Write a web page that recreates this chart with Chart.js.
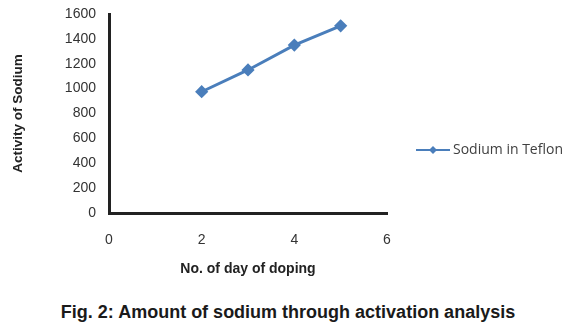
<!DOCTYPE html>
<html>
<head>
<meta charset="utf-8">
<script src="https://cdn.jsdelivr.net/npm/chart.js@4.4.1/dist/chart.umd.min.js"></script>
<style>
  body { margin: 0; background: #fff; }
  #wrap { position: relative; width: 576px; height: 332px; }
  #chart { position: absolute; left: 0; top: 0; }
  #caption {
    position: absolute; left: 0; width: 576px; top: 302px;
    text-align: center; font: bold 18px "Liberation Sans", Arial, sans-serif; color: #1a1a1a;
  }
</style>
</head>
<body>
<div id="wrap">
  <canvas id="chart" width="576" height="290"></canvas>
  <div id="caption">Fig. 2: Amount of sodium through activation analysis</div>
</div>
<script>
// values
const days = [2, 3, 4, 5]
const sodium = [975, 1150, 1350, 1505]
const seriesName = 'Sodium in Teflon'
const lineBlue = '#4a7ebb'

// legend drawn beside the plot, Excel style
const sideLegend = {
  id: 'sideLegend',
  afterDraw (chart) {
    const ctx = chart.ctx
    const ds = chart.data.datasets[0]
    const y = 150
    ctx.save()
    ctx.strokeStyle = ds.borderColor
    ctx.lineWidth = 2
    ctx.beginPath()
    ctx.moveTo(416, y)
    ctx.lineTo(450, y)
    ctx.stroke()
    ctx.fillStyle = ds.backgroundColor
    ctx.beginPath()
    ctx.moveTo(433, y - 4)
    ctx.lineTo(437, y)
    ctx.lineTo(433, y + 4)
    ctx.lineTo(429, y)
    ctx.closePath()
    ctx.fill()
    ctx.fillStyle = '#404040'
    ctx.font = '14px "Open Sans", sans-serif'
    ctx.textBaseline = 'middle'
    ctx.fillText(ds.label, 453, y)
    ctx.restore()
  }
}

const tickFont = { family: '"Liberation Sans", Arial, sans-serif', size: 14 }

new Chart(document.getElementById('chart').getContext('2d'), {
  type: 'line',
  data: {
    datasets: [{
      label: seriesName,
      data: days.map((d, i) => ({ x: d, y: sodium[i] })),
      borderColor: lineBlue,
      backgroundColor: lineBlue,
      borderWidth: 3,
      pointStyle: 'rectRot',
      pointRadius: 4.5,
      tension: 0
    }]
  },
  options: {
    responsive: false,
    animation: false,
    layout: { padding: { left: 0, top: 14, right: 189, bottom: 0 } },
    plugins: { legend: { display: false }, tooltip: { enabled: false } },
    scales: {
      x: {
        type: 'linear',
        min: 0, max: 6,
        ticks: { stepSize: 2, color: '#333', font: tickFont, padding: 19, maxRotation: 0, callback: v => String(v) },
        grid: { display: false, drawTicks: false },
        border: { display: true, color: '#222', width: 3 },
        title: {
          display: true, text: 'No. of day of doping', color: '#222',
          font: { family: '"Liberation Sans", Arial, sans-serif', size: 14, weight: 'bold' },
          padding: { top: 0, bottom: 12 }
        },
        afterFit (scale) { scale.height = 77 }
      },
      y: {
        min: 0, max: 1600,
        ticks: { stepSize: 200, color: '#333', font: tickFont, padding: 13, callback: v => String(v) },
        grid: { display: false, drawTicks: false },
        border: { display: true, color: '#222', width: 3 },
        title: {
          display: true, text: 'Activity of Sodium', color: '#222',
          font: { family: '"Liberation Sans", Arial, sans-serif', size: 13.5, weight: 'bold' },
          padding: { top: 10, bottom: 0 }
        },
        afterFit (scale) {
          scale.width = 109
          scale.paddingTop = 0
          scale.paddingBottom = 0
        }
      }
    }
  },
  plugins: [sideLegend]
})
</script>
</body>
</html>
